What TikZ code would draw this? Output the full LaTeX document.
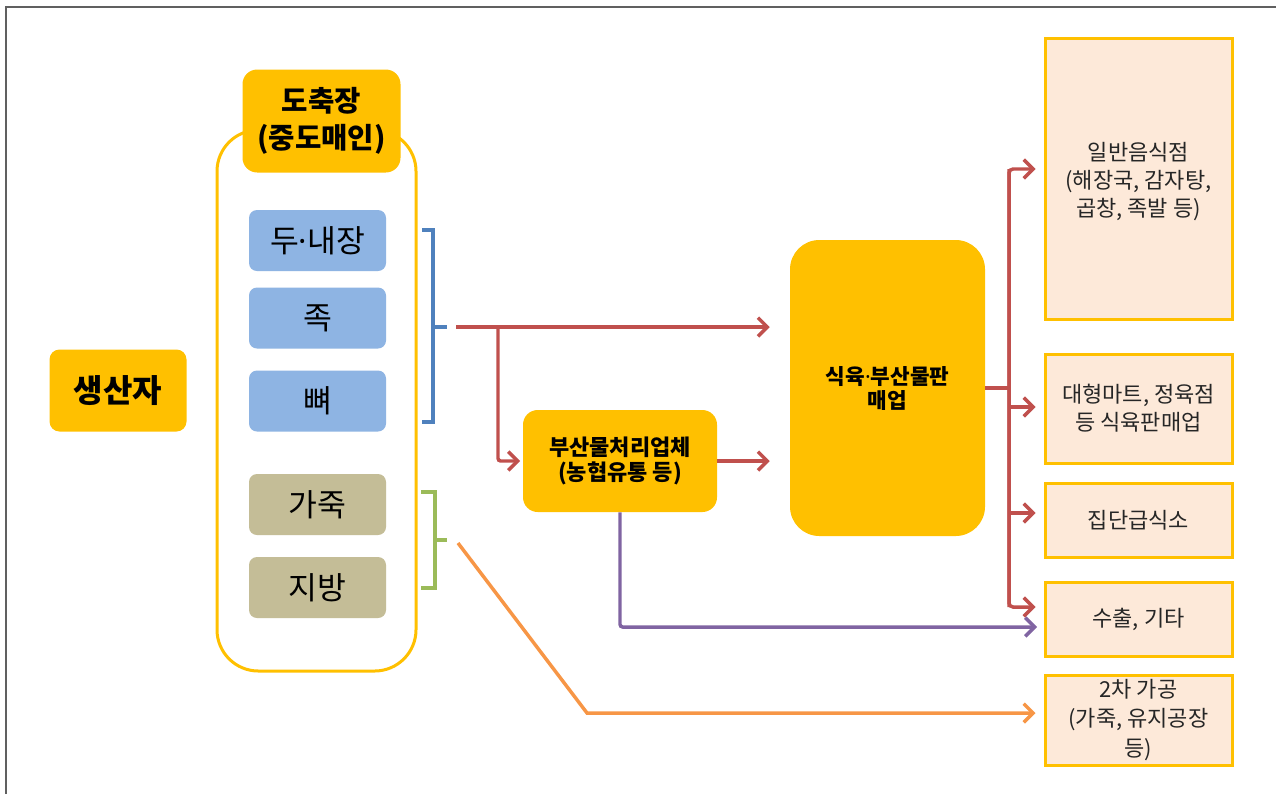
\documentclass[tikz,border=0pt]{standalone}
\usepackage{fontspec}
\setmainfont{Noto Sans CJK KR}
\newfontfamily\lat{Noto Sans}
\newcommand{\mdot}{{\lat ·}}
\usetikzlibrary{arrows.meta}
\definecolor{gold}{HTML}{FFC000}
\definecolor{bluebox}{HTML}{8EB4E3}
\definecolor{tanbox}{HTML}{C4BD97}
\definecolor{peach}{HTML}{FDE9D9}
\definecolor{redc}{HTML}{C0504D}
\definecolor{bluec}{HTML}{4F81BD}
\definecolor{greenc}{HTML}{9BBB59}
\definecolor{purplec}{HTML}{8064A2}
\definecolor{orangec}{HTML}{F79646}
\definecolor{framec}{HTML}{606060}
\definecolor{txt}{HTML}{262626}
\tikzset{
  goldbox/.style={fill=gold, draw=none, align=center, inner sep=0pt, text=black},
  leftbox/.style={draw=none, align=center, inner sep=0pt, rounded corners=6pt,
    minimum width={137*0.75pt}, minimum height={61*0.75pt}, font=\fontsize{23.5}{27}\selectfont},
  rightbox/.style={fill=peach, draw=gold, line width=2.25pt, align=center, inner sep=0pt,
    minimum width={187*0.75pt}, text=txt, font=\fontsize{16.5}{21}\selectfont},
  conn/.style={line width=2.6pt, -{Straight Barb[length=7pt,width=14pt]}},
  bracket/.style={line width=2.6pt},
}
\begin{document}
\begin{tikzpicture}[x=0.75pt,y=-0.75pt]
\useasboundingbox (0,0) rectangle (1276,794);
% frame
\draw[framec, line width=1.5pt] (6,794) -- (6,7) -- (1276,7);

% producer
\node[goldbox, rounded corners=7.5pt, minimum width={137*0.75pt}, minimum height={82*0.75pt},
  font=\bfseries\fontsize{24}{28}\selectfont] (prod) at (118,390.5) {생산자};

% outer container
\node[draw=gold, fill=white, line width=2.25pt, rounded corners=31pt,
  minimum width={199*0.75pt}, minimum height={541*0.75pt}] (outer) at (316.5,400.5) {};
\node[goldbox, rounded corners=11pt, minimum width={158*0.75pt}, minimum height={103*0.75pt},
  font=\bfseries\fontsize{21.5}{28}\selectfont] (slaughter) at (321.5,121) {도축장\\(중도매인)};

% parts
\node[leftbox, fill=bluebox] (b1) at (317.5,240.5) {두\mdot 내장};
\node[leftbox, fill=bluebox] (b2) at (317.5,318) {족};
\node[leftbox, fill=bluebox] (b3) at (317.5,401) {뼈};
\node[leftbox, fill=tanbox] (g1) at (317.5,504.5) {가죽};
\node[leftbox, fill=tanbox] (g2) at (317.5,587.5) {지방};

% processors
\node[goldbox, rounded corners=11pt, minimum width={194*0.75pt}, minimum height={102*0.75pt},
  font=\bfseries\fontsize{16.5}{18.5}\selectfont] (proc) at (620,461) {부산물처리업체\\(농협유통 등)};
\node[goldbox, rounded corners=22pt, minimum width={195*0.75pt}, minimum height={296*0.75pt},
  font=\bfseries\fontsize{16}{18}\selectfont] (sale) at (887.5,388) {식육\mdot 부산물판\\매업};

% right boxes
\node[rightbox, minimum height={281*0.75pt}] (r1) at (1138.5,178.5)
  {\begin{minipage}[c][210.75pt][t]{135pt}\centering\vspace*{78pt}일반음식점\\(해장국, 감자탕,\\곱창, 족발 등)\end{minipage}};
\node[rightbox, minimum height={109*0.75pt}] (r2) at (1138.5,408.5) {대형마트, 정육점\\등 식육판매업};
\node[rightbox, minimum height={74*0.75pt}] (r3) at (1138.5,520) {집단급식소};
\node[rightbox, minimum height={74*0.75pt}] (r4) at (1138.5,619) {수출, 기타};
\node[rightbox, minimum height={90*0.75pt}, font=\fontsize{16.5}{22}\selectfont] (r5) at (1138.5,720) {2차 가공\\(가죽, 유지공장\\등)};

% brackets
\draw[bracket, bluec] (422,230) -- (433,230) -- (433,422) -- (422,422);
\draw[bracket, bluec] (433,327) -- (447,327);
\draw[bracket, greenc] (421,492) -- (435,492) -- (435,588) -- (421,588);
\draw[bracket, greenc] (435,540) -- (447,540);

% connectors
\coordinate (bt) at (456,327);
\coordinate (bj) at (498,327);
\draw[conn, redc, shorten >=15pt] (bt) -- (bt -| sale.west);
\draw[conn, redc, shorten >=2pt, rounded corners=2pt] (bj) |- (proc.west);
\draw[conn, redc, shorten >=15pt] (proc.east) -- (proc.east -| sale.west);

\coordinate (vx) at (1009,0);
\coordinate (v1) at (1009,169);
\coordinate (v2) at (1009,407);
\coordinate (v3) at (1009,513);
\coordinate (v4) at (1009,607);
\draw[line width=2.6pt, redc] (sale.east) -- (sale.east -| vx);
\draw[conn, redc, shorten >=6pt, rounded corners=3pt] (v4) -- (v1) -- (v1 -| r1.west);
\draw[conn, redc, shorten >=6pt, rounded corners=3pt] (v1) -- (v4) -- (v4 -| r4.west);
\draw[conn, redc, shorten >=6pt] (v2) -- (v2 -| r2.west);
\draw[conn, redc, shorten >=6pt] (v3) -- (v3 -| r3.west);

\coordinate (p4) at (1045,627);
\draw[conn, purplec, shorten >=6pt, rounded corners=2pt] (proc.south) |- (p4);

\coordinate (gt) at (458,543);
\coordinate (ok) at (587,713);
\draw[conn, orangec, shorten >=6pt] (gt) -- (ok) -- (ok -| r5.west);
\end{tikzpicture}
\end{document}
